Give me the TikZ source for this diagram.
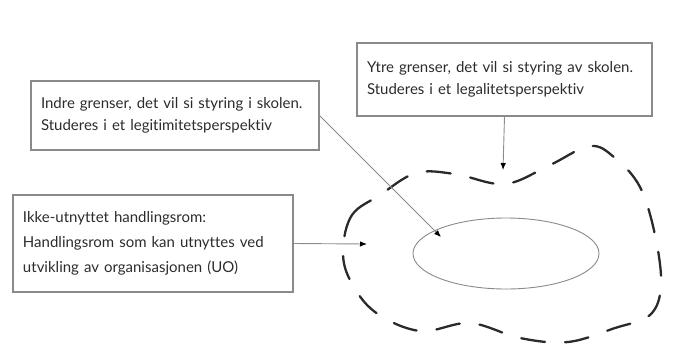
\documentclass[tikz,border=0pt]{standalone}
\usepackage{fontspec}
\setmainfont{Lato}[Ligatures=NoCommon]
\usepackage{tikz}
\tikzset{>=latex}
\usetikzlibrary{arrows,arrows.meta}
\usetikzlibrary{shapes.geometric}

\definecolor{boksgraa}{HTML}{8A8A8A}
\definecolor{tekstgraa}{HTML}{2C2C2C}
\definecolor{pilgraa}{HTML}{8C8C8C}
\definecolor{strekgraa}{HTML}{2A2A2A}

\tikzset{
    tekstboks/.style={draw=boksgraa, line width=1.1pt, text=tekstgraa, align=left,
        inner xsep=10pt, inner ysep=0pt, font=\fontsize{15}{22}\selectfont},
    pil/.style={-{Latex[length=7pt, width=5.5pt, color=black]}, draw=pilgraa, line width=0.9pt},
}

\begin{document}
\begin{tikzpicture}[x=1pt, y=-1pt]
    \useasboundingbox (0,0) rectangle (674,360);

    % Text boxes
    \node[tekstboks, text width=268pt, minimum height=69pt] (indre) at (175,115.5)
        {Indre grenser, det vil si styring i skolen.\\Studeres i et legitimitetsperspektiv};
    \node[tekstboks, text width=275pt, minimum height=73pt] (ytre) at (504.5,79.5)
        {Ytre grenser, det vil si styring av skolen.\\Studeres i et legalitetsperspektiv};
    \node[tekstboks, text width=260pt, minimum height=97pt,
        font=\fontsize{15}{25}\selectfont] (ikke) at (153,243.5)
        {Ikke-utnyttet handlingsrom:\\Handlingsrom som kan utnyttes ved\\utvikling av organisasjonen (UO)};

    % Inner room
    \node[ellipse, draw=boksgraa, line width=0.9pt, minimum width=186pt, minimum height=71pt] (rom) at (506,253.5) {};

    % Outer border (dashed)
    \draw[strekgraa, line width=2.3pt, dash pattern=on 24pt off 20pt, line cap=round]
        plot[smooth cycle, tension=0.6] coordinates {
            (343,250) (352,215) (380,195) (416,173) (455,174) (505,184)
            (550,165) (590,146) (615,158) (640,187) (655,235) (661,285)
            (650,315) (615,328) (568,342) (520,338) (470,323) (420,331)
            (375,312) (350,280)};

    % Arrow ends
    \coordinate (ytrespiss) at (503,170);
    \coordinate (ikkespiss) at (367,244);
    \coordinate (indrespiss) at (441,237);

    % Arrows
    \draw[pil] (ytre.south) -- (ytrespiss);
    \draw[pil] (ikke.east) -- (ikkespiss);
    \draw[pil] (indre.east) -- (indrespiss);
\end{tikzpicture}
\end{document}
